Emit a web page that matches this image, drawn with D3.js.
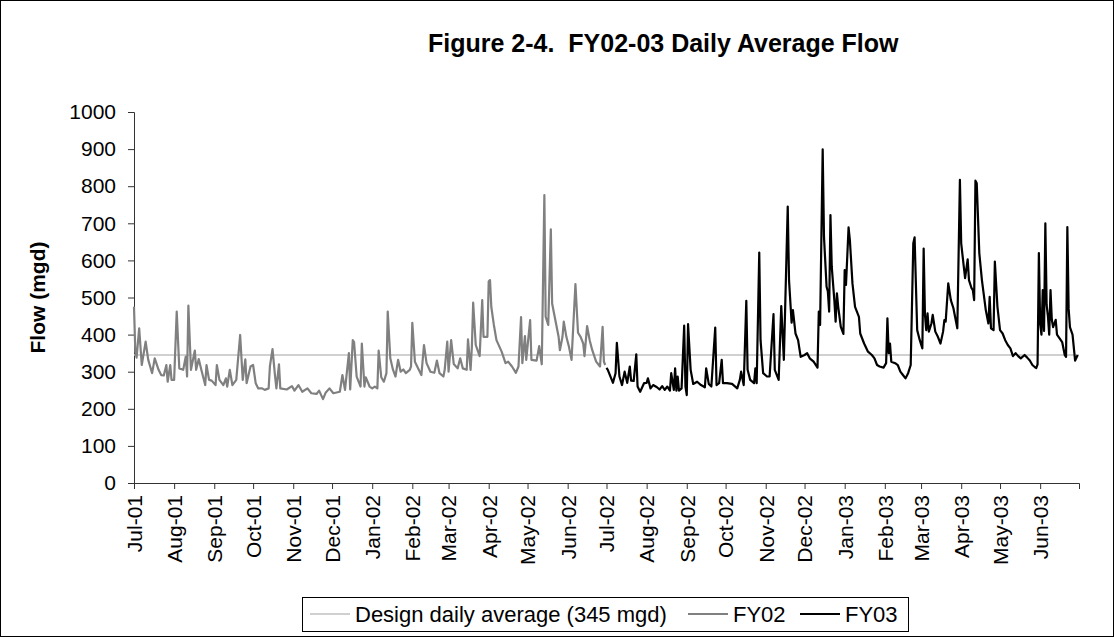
<!DOCTYPE html>
<html>
<head>
<meta charset="utf-8">
<script src="https://cdn.jsdelivr.net/npm/d3@7"></script>
<style>
  body { margin: 0; background: #fff; }
  svg text { font-family: "Liberation Sans", Arial, sans-serif; fill: #000; }
</style>
</head>
<body>
<div id="chart"></div>
<script>
// design average flow (mgd)
const designFlow = 345;
const yTicks = [0, 100, 200, 300, 400, 500, 600, 700, 800, 900, 1000];
const seriesNames = ['Design daily average (345 mgd)', 'FY02', 'FY03'];

// FY02 daily average flow
const fy02 = [
  ['2001-07-01', 475], ['2001-07-02', 355], ['2001-07-03', 338], ['2001-07-05', 417], ['2001-07-07', 318],
  ['2001-07-10', 381], ['2001-07-12', 332], ['2001-07-15', 296], ['2001-07-17', 336], ['2001-07-20', 305],
  ['2001-07-22', 291], ['2001-07-24', 290], ['2001-07-26', 318], ['2001-07-27', 273], ['2001-07-29', 318],
  ['2001-07-30', 278], ['2001-08-01', 278], ['2001-08-03', 462], ['2001-08-05', 309], ['2001-08-08', 305],
  ['2001-08-10', 341], ['2001-08-11', 287], ['2001-08-12', 478], ['2001-08-14', 305], ['2001-08-17', 357],
  ['2001-08-18', 305], ['2001-08-20', 334], ['2001-08-22', 305], ['2001-08-25', 264], ['2001-08-26', 318],
  ['2001-08-28', 278], ['2001-08-30', 276], ['2001-09-02', 264], ['2001-09-03', 318], ['2001-09-05', 278],
  ['2001-09-08', 264], ['2001-09-10', 282], ['2001-09-11', 260], ['2001-09-13', 305], ['2001-09-15', 264],
  ['2001-09-18', 278], ['2001-09-21', 399], ['2001-09-23', 278], ['2001-09-25', 333], ['2001-09-26', 269],
  ['2001-09-29', 314], ['2001-10-01', 318], ['2001-10-03', 269], ['2001-10-05', 255], ['2001-10-08', 255],
  ['2001-10-10', 251], ['2001-10-13', 255], ['2001-10-14', 315], ['2001-10-16', 361], ['2001-10-18', 287],
  ['2001-10-19', 255], ['2001-10-21', 320], ['2001-10-22', 255], ['2001-10-27', 252], ['2001-10-31', 261],
  ['2001-11-02', 249], ['2001-11-05', 264], ['2001-11-08', 246], ['2001-11-12', 255], ['2001-11-15', 242],
  ['2001-11-19', 240], ['2001-11-21', 249], ['2001-11-24', 226], ['2001-11-26', 243], ['2001-11-29', 255],
  ['2001-12-02', 242], ['2001-12-07', 246], ['2001-12-09', 291], ['2001-12-11', 251], ['2001-12-14', 350],
  ['2001-12-15', 252], ['2001-12-17', 385], ['2001-12-18', 380], ['2001-12-20', 287], ['2001-12-23', 260],
  ['2001-12-24', 376], ['2001-12-26', 260], ['2001-12-27', 285], ['2001-12-30', 260], ['2002-01-01', 255],
  ['2002-01-03', 260], ['2002-01-05', 255], ['2002-01-06', 357], ['2002-01-08', 285], ['2002-01-10', 273],
  ['2002-01-12', 296], ['2002-01-13', 462], ['2002-01-15', 336], ['2002-01-17', 306], ['2002-01-19', 287],
  ['2002-01-21', 332], ['2002-01-23', 300], ['2002-01-25', 306], ['2002-01-27', 296], ['2002-01-30', 305],
  ['2002-01-31', 314], ['2002-02-01', 432], ['2002-02-03', 327], ['2002-02-06', 305], ['2002-02-08', 291],
  ['2002-02-10', 372], ['2002-02-12', 323], ['2002-02-15', 300], ['2002-02-18', 297], ['2002-02-20', 330],
  ['2002-02-22', 296], ['2002-02-25', 287], ['2002-02-26', 305], ['2002-02-28', 381], ['2002-03-01', 300],
  ['2002-03-03', 385], ['2002-03-05', 321], ['2002-03-08', 309], ['2002-03-10', 336], ['2002-03-12', 309],
  ['2002-03-15', 305], ['2002-03-16', 387], ['2002-03-18', 305], ['2002-03-19', 367], ['2002-03-20', 486],
  ['2002-03-22', 372], ['2002-03-25', 342], ['2002-03-27', 493], ['2002-03-28', 394], ['2002-03-31', 394],
  ['2002-04-01', 543], ['2002-04-02', 547], ['2002-04-03', 475], ['2002-04-05', 426], ['2002-04-07', 385],
  ['2002-04-11', 354], ['2002-04-14', 323], ['2002-04-16', 327], ['2002-04-19', 314], ['2002-04-22', 297],
  ['2002-04-24', 314], ['2002-04-26', 447], ['2002-04-27', 323], ['2002-04-29', 396], ['2002-04-30', 332],
  ['2002-05-03', 439], ['2002-05-04', 332], ['2002-05-08', 330], ['2002-05-10', 369], ['2002-05-12', 320],
  ['2002-05-14', 776], ['2002-05-15', 448], ['2002-05-17', 426], ['2002-05-19', 684], ['2002-05-20', 484],
  ['2002-05-23', 430], ['2002-05-25', 394], ['2002-05-26', 358], ['2002-05-28', 394], ['2002-05-29', 435],
  ['2002-05-31', 394], ['2002-06-02', 367], ['2002-06-04', 332], ['2002-06-07', 536], ['2002-06-09', 405],
  ['2002-06-11', 394], ['2002-06-13', 376], ['2002-06-14', 342], ['2002-06-16', 423], ['2002-06-18', 385],
  ['2002-06-20', 358], ['2002-06-23', 327], ['2002-06-26', 314], ['2002-06-28', 421], ['2002-06-29', 327],
  ['2002-06-30', 318]
];

// FY03 daily average flow
const fy03 = [
  ['2002-07-01', 310], ['2002-07-02', 305], ['2002-07-06', 270], ['2002-07-08', 296], ['2002-07-09', 378],
  ['2002-07-11', 287], ['2002-07-13', 264], ['2002-07-15', 300], ['2002-07-17', 270], ['2002-07-19', 314],
  ['2002-07-20', 276], ['2002-07-22', 275], ['2002-07-24', 347], ['2002-07-25', 260], ['2002-07-27', 246],
  ['2002-07-30', 269], ['2002-08-01', 270], ['2002-08-02', 282], ['2002-08-04', 255], ['2002-08-06', 264],
  ['2002-08-09', 258], ['2002-08-11', 252], ['2002-08-13', 261], ['2002-08-15', 251], ['2002-08-17', 260],
  ['2002-08-19', 249], ['2002-08-20', 296], ['2002-08-22', 251], ['2002-08-23', 309], ['2002-08-24', 249],
  ['2002-08-25', 287], ['2002-08-26', 249], ['2002-08-28', 255], ['2002-08-30', 424], ['2002-08-31', 260],
  ['2002-09-01', 237], ['2002-09-02', 428], ['2002-09-04', 305], ['2002-09-06', 267], ['2002-09-09', 273],
  ['2002-09-12', 264], ['2002-09-15', 258], ['2002-09-16', 309], ['2002-09-18', 267], ['2002-09-20', 260],
  ['2002-09-23', 419], ['2002-09-24', 264], ['2002-09-26', 269], ['2002-09-28', 332], ['2002-09-29', 269],
  ['2002-10-02', 269], ['2002-10-06', 267], ['2002-10-08', 261], ['2002-10-10', 255], ['2002-10-12', 278],
  ['2002-10-13', 300], ['2002-10-15', 264], ['2002-10-17', 491], ['2002-10-18', 305], ['2002-10-20', 278],
  ['2002-10-23', 269], ['2002-10-24', 309], ['2002-10-25', 269], ['2002-10-27', 621], ['2002-10-28', 385],
  ['2002-10-30', 296], ['2002-11-02', 287], ['2002-11-04', 287], ['2002-11-07', 455], ['2002-11-08', 305],
  ['2002-11-11', 278], ['2002-11-13', 477], ['2002-11-15', 332], ['2002-11-18', 745], ['2002-11-19', 547],
  ['2002-11-21', 432], ['2002-11-22', 466], ['2002-11-24', 403], ['2002-11-26', 385], ['2002-11-28', 340],
  ['2002-12-01', 345], ['2002-12-03', 350], ['2002-12-05', 336], ['2002-12-08', 327], ['2002-12-11', 311],
  ['2002-12-12', 462], ['2002-12-13', 426], ['2002-12-15', 899], ['2002-12-16', 664], ['2002-12-18', 529],
  ['2002-12-19', 516], ['2002-12-20', 462], ['2002-12-21', 722], ['2002-12-22', 583], ['2002-12-24', 493],
  ['2002-12-25', 435], ['2002-12-26', 511], ['2002-12-27', 475], ['2002-12-29', 421], ['2002-12-31', 402],
  ['2003-01-01', 574], ['2003-01-02', 534], ['2003-01-04', 689], ['2003-01-05', 655], ['2003-01-07', 538],
  ['2003-01-09', 475], ['2003-01-12', 448], ['2003-01-13', 403], ['2003-01-16', 376], ['2003-01-19', 354],
  ['2003-01-22', 345], ['2003-01-24', 336], ['2003-01-26', 318], ['2003-01-28', 314], ['2003-01-31', 311],
  ['2003-02-02', 323], ['2003-02-03', 444], ['2003-02-04', 350], ['2003-02-05', 376], ['2003-02-06', 327],
  ['2003-02-09', 323], ['2003-02-11', 318], ['2003-02-13', 300], ['2003-02-15', 291], ['2003-02-17', 282],
  ['2003-02-19', 296], ['2003-02-21', 318], ['2003-02-23', 646], ['2003-02-24', 662], ['2003-02-26', 412],
  ['2003-02-28', 385], ['2003-03-02', 363], ['2003-03-03', 632], ['2003-03-04', 453], ['2003-03-05', 412],
  ['2003-03-06', 457], ['2003-03-07', 408], ['2003-03-09', 430], ['2003-03-10', 453], ['2003-03-12', 408],
  ['2003-03-14', 394], ['2003-03-16', 376], ['2003-03-18', 408], ['2003-03-19', 439], ['2003-03-20', 435],
  ['2003-03-22', 538], ['2003-03-24', 493], ['2003-03-26', 471], ['2003-03-27', 453], ['2003-03-29', 417],
  ['2003-03-31', 817], ['2003-04-01', 646], ['2003-04-03', 583], ['2003-04-04', 552], ['2003-04-06', 603],
  ['2003-04-07', 547], ['2003-04-09', 525], ['2003-04-10', 520], ['2003-04-11', 493], ['2003-04-12', 815],
  ['2003-04-13', 808], ['2003-04-15', 619], ['2003-04-17', 547], ['2003-04-20', 466], ['2003-04-22', 430],
  ['2003-04-23', 502], ['2003-04-24', 417], ['2003-04-26', 412], ['2003-04-27', 597], ['2003-04-29', 475],
  ['2003-05-01', 412], ['2003-05-03', 403], ['2003-05-05', 385], ['2003-05-07', 372], ['2003-05-09', 363],
  ['2003-05-11', 342], ['2003-05-13', 350], ['2003-05-15', 342], ['2003-05-17', 336], ['2003-05-20', 345],
  ['2003-05-22', 338], ['2003-05-24', 330], ['2003-05-26', 318], ['2003-05-28', 312], ['2003-05-29', 310],
  ['2003-05-30', 320], ['2003-05-31', 620], ['2003-06-01', 430], ['2003-06-02', 400], ['2003-06-03', 520],
  ['2003-06-04', 410], ['2003-06-05', 700], ['2003-06-06', 480], ['2003-06-07', 450], ['2003-06-08', 400],
  ['2003-06-09', 520], ['2003-06-10', 440], ['2003-06-11', 420], ['2003-06-13', 440], ['2003-06-14', 400],
  ['2003-06-16', 390], ['2003-06-18', 380], ['2003-06-20', 345], ['2003-06-21', 340], ['2003-06-22', 690],
  ['2003-06-23', 470], ['2003-06-24', 420], ['2003-06-26', 400], ['2003-06-28', 330], ['2003-06-30', 345]
];

const W = 1114, H = 637;
const parse = d3.timeParse('%Y-%m-%d');

const svg = d3.select('#chart').append('svg')
  .attr('width', W)
  .attr('height', H);

// chart border
svg.append('rect')
  .attr('x', 0.5).attr('y', 0.5)
  .attr('width', W - 1).attr('height', H - 1)
  .attr('fill', '#fff').attr('stroke', '#000');

const x = d3.scaleTime()
  .domain([parse('2001-07-01'), parse('2003-07-01')])
  .range([134, 1079]);

const y = d3.scaleLinear()
  .domain([0, 1000])
  .range([483, 112]);

// title
svg.append('text')
  .attr('x', 428).attr('y', 52)
  .attr('text-anchor', 'start')
  .style('font-size', '25px').style('font-weight', 'bold')
  .style('white-space', 'pre')
  .text('Figure 2-4.  FY02-03 Daily Average Flow');

// y axis
const yAxis = svg.append('g')
  .attr('transform', `translate(${x.range()[0]},0)`)
  .call(d3.axisLeft(y).tickValues(yTicks).tickFormat(d3.format('d')).tickSize(6).tickPadding(12));
yAxis.selectAll('text').style('font-size', '21px');

// x axis: month ticks, no tick at the closing edge
const monthTicks = x.ticks(d3.timeMonth.every(1)).filter(d => d < x.domain()[1]);
const xAxis = svg.append('g')
  .attr('transform', `translate(0,${y(0)})`)
  .call(d3.axisBottom(x).tickValues(monthTicks).tickFormat(d3.timeFormat('%b-%y')).tickSize(6));
xAxis.selectAll('text')
  .style('font-size', '21px')
  .attr('text-anchor', 'end')
  .attr('transform', 'rotate(-90)')
  .attr('x', -12).attr('y', 0).attr('dy', '0.35em');
svg.selectAll('.domain, .tick line').attr('stroke', '#333');

// axis title
svg.append('text')
  .attr('transform', `translate(45,${(y(0) + y(1000)) / 2}) rotate(-90)`)
  .attr('text-anchor', 'middle')
  .style('font-size', '21px').style('font-weight', 'bold')
  .text('Flow (mgd)');

// design line
svg.append('line')
  .attr('x1', x.range()[0]).attr('x2', x.range()[1])
  .attr('y1', y(designFlow)).attr('y2', y(designFlow))
  .attr('stroke', '#c0c0c0').attr('stroke-width', 1.5);

const line = d3.line()
  .x(d => x(parse(d[0])))
  .y(d => y(d[1]));

svg.append('path').datum(fy02)
  .attr('d', line)
  .attr('fill', 'none').attr('stroke', '#808080').attr('stroke-width', 2.2)
  .attr('stroke-linejoin', 'round');

svg.append('path').datum(fy03)
  .attr('d', line)
  .attr('fill', 'none').attr('stroke', '#000').attr('stroke-width', 2.2)
  .attr('stroke-linejoin', 'round');

// legend
const legend = svg.append('g');
legend.append('rect')
  .attr('x', 302.5).attr('y', 597.5).attr('width', 606).attr('height', 34)
  .attr('fill', '#fff').attr('stroke', '#000');

const legendItems = [
  { name: seriesNames[0], color: '#c0c0c0', width: 1.5, x0: 310 },
  { name: seriesNames[1], color: '#808080', width: 2.2, x0: 688 },
  { name: seriesNames[2], color: '#000', width: 2.2, x0: 800 }
];
legendItems.forEach(it => {
  legend.append('line')
    .attr('x1', it.x0).attr('x2', it.x0 + 40)
    .attr('y1', 614).attr('y2', 614)
    .attr('stroke', it.color).attr('stroke-width', it.width);
  legend.append('text')
    .attr('x', it.x0 + 45).attr('y', 614).attr('dy', '0.35em')
    .style('font-size', '22px')
    .text(it.name);
});
</script>
</body>
</html>
